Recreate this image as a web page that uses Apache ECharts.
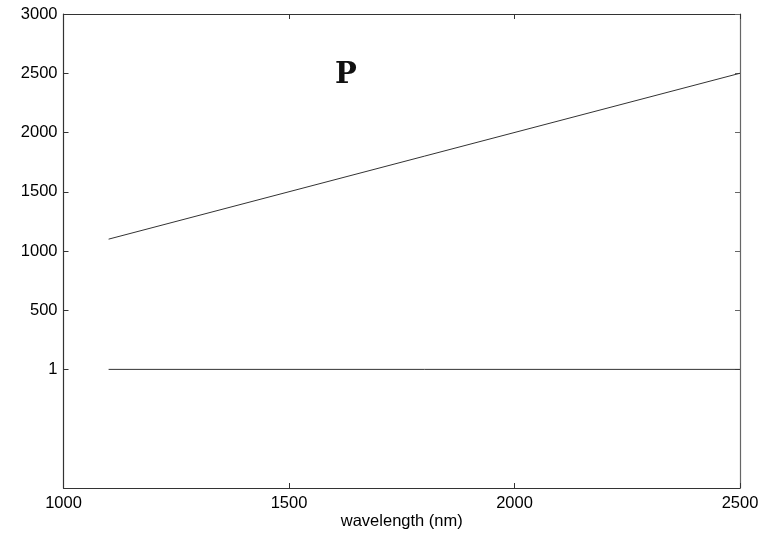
<!DOCTYPE html>
<html>
<head>
<meta charset="utf-8">
<script src="https://cdn.jsdelivr.net/npm/echarts@6/dist/echarts.min.js"></script>
<style>
  html, body { margin: 0; padding: 0; background: #fff; }
  #chart { width: 771px; height: 533px; }
</style>
</head>
<body>
<div id="chart"></div>
<script>
// Wavelength range and the two curves plotted against it
const wavelengths = [1100, 2500];
const rising = [1100, 2500];
const flat = [1, 1];

// Axis ticks
const xTicks = [1000, 1500, 2000, 2500];
const yTicks = [1, 500, 1000, 1500, 2000, 2500, 3000];

const axisColor = '#333';
const labelFont = { fontFamily: 'Liberation Sans', fontSize: 16.5, color: '#000' };
const plain = v => String(v);

const chart = echarts.init(document.getElementById('chart'), null, { renderer: 'canvas' });

chart.setOption({
  animation: false,
  backgroundColor: '#fff',
  title: {
    text: 'P',
    left: 330,
    top: 56,
    textStyle: { fontFamily: 'DejaVu Serif', fontWeight: 'bold', fontSize: 29, color: '#111' }
  },
  grid: { left: 63.5, right: 31, top: 14, bottom: 45, containLabel: false, outerBoundsMode: 'none' },
  xAxis: [
    {
      type: 'value', min: 1000, max: 2500, interval: 500,
      position: 'bottom',
      name: 'wavelength (nm)', nameLocation: 'middle', nameGap: 25, nameMoveOverlap: false,
      nameTextStyle: labelFont,
      axisLine: { onZero: false, lineStyle: { color: axisColor, width: 1.2 } },
      axisTick: { inside: true, length: 5, lineStyle: { color: axisColor } },
      axisLabel: Object.assign({ margin: 7, formatter: plain, customValues: xTicks }, labelFont),
      splitLine: { show: false }
    },
    {
      type: 'value', min: 1000, max: 2500, interval: 500,
      position: 'top',
      axisLine: { onZero: false, lineStyle: { color: axisColor, width: 1.2 } },
      axisTick: { inside: true, length: 5, lineStyle: { color: axisColor } },
      axisLabel: { show: false },
      splitLine: { show: false }
    }
  ],
  yAxis: [
    {
      type: 'value', min: -1000, max: 3000,
      position: 'left',
      axisLine: { show: true, onZero: false, lineStyle: { color: axisColor, width: 1.2 } },
      axisTick: { show: true, inside: true, length: 5, customValues: yTicks, lineStyle: { color: axisColor } },
      axisLabel: Object.assign({ margin: 6, formatter: plain, customValues: yTicks }, labelFont),
      splitLine: { show: false }
    },
    {
      type: 'value', min: -1000, max: 3000,
      position: 'right',
      axisLine: { show: true, onZero: false, lineStyle: { color: '#666', width: 1.2 } },
      axisTick: { show: true, inside: true, length: 5, customValues: yTicks, lineStyle: { color: '#666' } },
      axisLabel: { show: false },
      splitLine: { show: false }
    }
  ],
  series: [
    {
      type: 'line',
      data: wavelengths.map((w, i) => [w, rising[i]]),
      showSymbol: false,
      lineStyle: { color: '#333', width: 1 }
    },
    {
      type: 'line',
      data: wavelengths.map((w, i) => [w, flat[i]]),
      showSymbol: false,
      lineStyle: { color: '#333', width: 1 }
    }
  ]
});
</script>
</body>
</html>
